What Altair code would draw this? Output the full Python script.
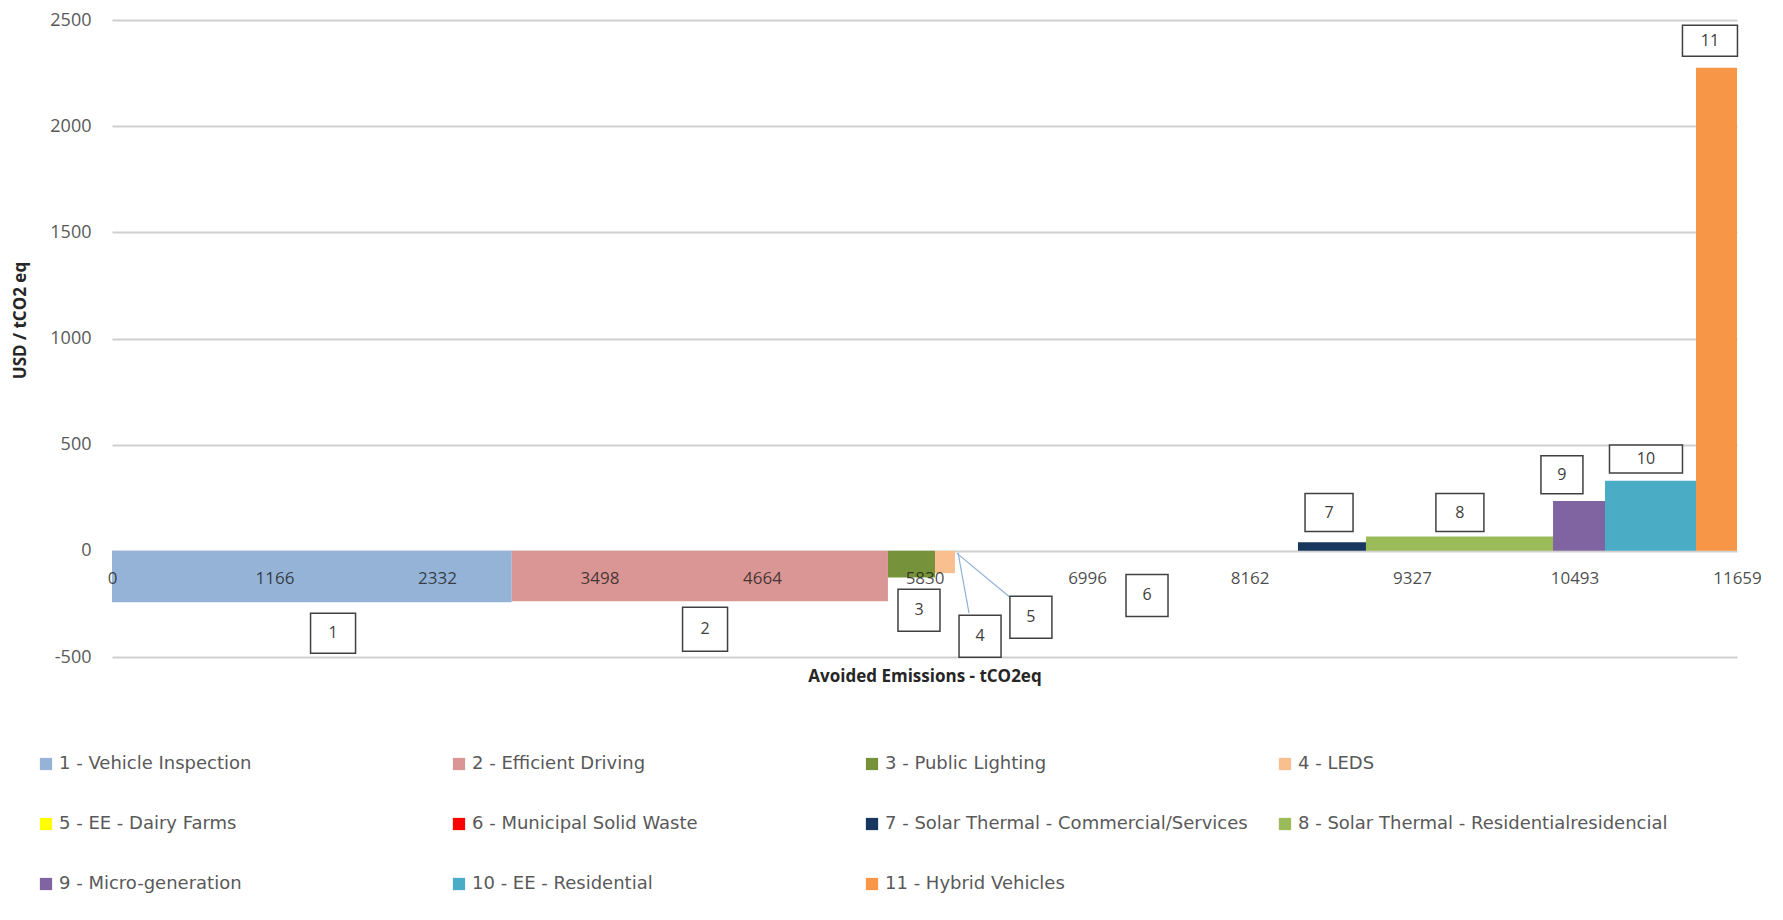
import altair as alt
import pandas as pd

# ---- data ----
measures = [
    "1 - Vehicle Inspection",
    "2 - Efficient Driving",
    "3 - Public Lighting",
    "4 - LEDS",
    "5 - EE - Dairy Farms",
    "6 - Municipal Solid Waste",
    "7 - Solar Thermal - Commercial/Services",
    "8 - Solar Thermal - Residentialresidencial",
    "9 - Micro-generation",
    "10 - EE - Residential",
    "11 - Hybrid Vehicles",
]
avoided = [2868, 2699, 338, 143, 30, 2431, 488, 1342, 373, 653, 294]   # tCO2eq (bar widths)
cost = [-242, -237, -125, -105, 0, 0, 40, 68, 235, 330, 2275]          # USD / tCO2eq
colors = ["#95b3d7", "#da9694", "#76933c", "#fabf8f", "#ffff00", "#ff0000",
          "#17375e", "#9bbb59", "#8064a2", "#4bacc6", "#f79646"]

x_ticks = [0, 1166, 2332, 3498, 4664, 5830, 6996, 8162, 9327, 10493, 11659]
y_ticks = [-500, 0, 500, 1000, 1500, 2000, 2500]

# label boxes (anchor in data units)
box_ids = ["1", "2", "3", "4", "5", "6", "7", "8", "9", "10", "11"]
box_x = [1586, 4255, 5790, 6228, 6593, 7426, 8732, 9671, 10403, 11006, 11465]
box_y = [-388, -369, -280, -402, -313, -210, 180, 180, 358, 433, 2402]

# leader lines for boxes 4 and 5
lead_x = [6070, 6062]
lead_y = [-8, -12]
lead_x2 = [6149, 6443]
lead_y2 = [-293, -219]

# ---- build tables ----
ends = pd.Series(avoided).cumsum()
bars_df = pd.DataFrame({
    "measure": measures,
    "start": ends - pd.Series(avoided),
    "end": ends,
    "cost": cost,
    "zero": [0] * len(measures),
})

# box dimensions in pixels (style, not data)
box_w = [45, 45, 42, 42, 42, 42, 48, 48, 42, 73, 55]
box_h = [40, 44, 42, 42, 42, 42, 38, 38, 38, 28, 31]
shapes = []
sizes = []
for w, h in zip(box_w, box_h):
    a = w / h
    shapes.append(f"M{-a:.3f},-1L{a:.3f},-1L{a:.3f},1L{-a:.3f},1Z")
    sizes.append(h * h)
boxes_df = pd.DataFrame({"id": box_ids, "start": box_x, "cost": box_y,
                         "shape": shapes, "size": sizes})
lead_df = pd.DataFrame({"start": lead_x, "cost": lead_y, "end": lead_x2, "zero": lead_y2})

x_scale = alt.Scale(domain=[0, 11659], nice=False, zero=False)
y_scale = alt.Scale(domain=[-500, 2500], nice=False)

x_axis = alt.Axis(values=x_ticks, format="d", offset=-89, labelPadding=2,
                  domain=False, ticks=False, grid=False, labelFlush=False,
                  labelFontSize=17, labelColor="#1a1a1a", labelOpacity=0.8,
                  title="Avoided Emissions - tCO2eq", titleY=108,
                  titleBaseline="middle", titleFontWeight="bold",
                  titleFontSize=17, titleColor="#262626", zindex=1)
y_axis = alt.Axis(values=y_ticks, grid=True, gridColor="#d0d0d0",
                  labelExpr="datum.value < 0 ? '-' + abs(datum.value) : '' + datum.value",
                  gridWidth=2, domain=False, ticks=False, labelPadding=21,
                  labelFontSize=18, labelColor="#595959",
                  title="USD / tCO2 eq", titleX=-92, titleY=300,
                  titleAngle=270, titleBaseline="middle",
                  titleFontWeight="bold", titleFontSize=17,
                  titleColor="#262626", zindex=0)

bars = alt.Chart(bars_df).mark_rect().encode(
    x=alt.X("start:Q", scale=x_scale, axis=x_axis),
    x2="end:Q",
    y=alt.Y("cost:Q", scale=y_scale, axis=y_axis),
    y2="zero:Q",
    color=alt.Color("measure:N",
                    scale=alt.Scale(domain=measures, range=colors),
                    legend=alt.Legend(orient="none", legendX=-75, legendY=735,
                                      direction="horizontal",
                                      columns=4, gridAlign="all", title=None,
                                      symbolType="square", symbolSize=150,
                                      symbolStrokeWidth=0, labelFontSize=18,
                                      labelFont="DejaVu Sans",
                                      labelColor="#595959", labelOffset=4,
                                      columnPadding=21, rowPadding=42,
                                      labelLimit=700)),
)

leads = alt.Chart(lead_df).mark_rule(color="#8fb0d8", strokeWidth=1.2).encode(
    x=alt.X("start:Q", scale=x_scale, axis=x_axis),
    y=alt.Y("cost:Q", scale=y_scale, axis=y_axis),
    x2="end:Q",
    y2="zero:Q",
)

boxes = alt.Chart(boxes_df).mark_point(filled=True, fill="white", stroke="#404040",
                                       strokeWidth=1.5, opacity=1).encode(
    x=alt.X("start:Q", scale=x_scale, axis=x_axis),
    y=alt.Y("cost:Q", scale=y_scale, axis=y_axis),
    shape=alt.Shape("shape:N", scale=None),
    size=alt.Size("size:Q", scale=None),
)

box_text = alt.Chart(boxes_df).mark_text(fontSize=16, color="#404040").encode(
    x=alt.X("start:Q", scale=x_scale, axis=x_axis),
    y=alt.Y("cost:Q", scale=y_scale, axis=y_axis),
    text="id:N",
)

chart = alt.layer(bars, leads, boxes, box_text).properties(
    width=1625, height=637,
    autosize=alt.AutoSizeParams(type="none"),
    padding={"left": 104, "top": 12, "right": 30, "bottom": 245},
).configure(font="Open Sans").configure_view(stroke=None)

chart.save("out.html", embed_options={"renderer": "svg", "actions": False})
